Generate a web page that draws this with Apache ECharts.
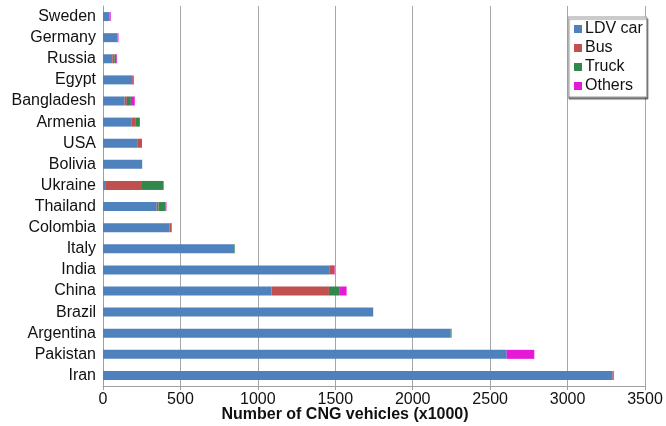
<!DOCTYPE html>
<html><head><meta charset="utf-8">
<script src="https://cdn.jsdelivr.net/npm/echarts@6/dist/echarts.min.js"></script>
<style>html,body{margin:0;padding:0;background:#fff}#c{width:666px;height:426px}</style>
</head><body><div id="c"></div>
<script>
var countries = ["Sweden","Germany","Russia","Egypt","Bangladesh","Armenia","USA","Bolivia","Ukraine","Thailand","Colombia","Italy","India","China","Brazil","Argentina","Pakistan","Iran"];
var ldvCar = [42, 93, 60, 188, 140, 186, 225, 253, 14, 347, 429, 847, 1465, 1088, 1745, 2245, 2607, 3290];
var bus    = [2, 2, 13, 5, 14, 22, 21, 0, 232, 11, 13, 0, 30, 371, 0, 0, 0, 6];
var truck  = [0, 0, 13, 0, 26, 30, 6, 0, 142, 46, 3, 4, 0, 66, 0, 6, 0, 4];
var others = [6, 5, 5, 6, 25, 0, 0, 0, 4, 6, 0, 0, 3, 48, 0, 0, 178, 0];
var xTicks = [0, 500, 1000, 1500, 2000, 2500, 3000, 3500];

var font = "'Liberation Sans', Arial, sans-serif";
var chart = echarts.init(document.getElementById('c'), null, {renderer:'canvas'});
function s(name, data, color){
  return {name:name, type:'bar', stack:'t', data:data, barWidth:9,
    itemStyle:{color:color}, emphasis:{disabled:true}};
}
chart.setOption({
  animation:false,
  textStyle:{fontFamily:font},
  grid:{left:103, right:21, top:6, bottom:40, containLabel:false, outerBoundsMode:'none'},
  legend:{
    orient:'vertical', left:568, top:17, width:80,
    data:['LDV car','Bus','Truck','Others'],
    icon:'rect', itemWidth:8, itemHeight:8, itemGap:3,
    padding:[4,4,3,6],
    borderColor:'#999', borderWidth:1, backgroundColor:'#fff',
    shadowColor:'rgba(0,0,0,0.45)', shadowBlur:1, shadowOffsetX:1, shadowOffsetY:2,
    textStyle:{fontFamily:font, fontSize:16, color:'#111', padding:[0,0,0,-2]}
  },
  xAxis:{
    type:'value', min:0, max:3500, interval:500,
    axisLine:{show:true, lineStyle:{color:'#a0a0a0'}},
    axisTick:{show:true, length:4, lineStyle:{color:'#a0a0a0'}},
    splitLine:{show:true, lineStyle:{color:'#a6a6a6', width:1}},
    axisLabel:{fontFamily:font, fontSize:16, color:'#111', margin:6,
      formatter:function(v){return xTicks.indexOf(v)>=0 ? String(v) : '';}},
    name:'Number of CNG vehicles (x1000)', nameLocation:'middle', nameGap:21,
    nameMoveOverlap:false,
    nameTextStyle:{fontFamily:font, fontSize:16, fontWeight:'bold', color:'#111', padding:[0,0,0,-58]}
  },
  yAxis:{
    type:'category', data:countries, inverse:true,
    axisLine:{show:true, lineStyle:{color:'#a0a0a0'}},
    axisTick:{show:false},
    axisLabel:{fontFamily:font, fontSize:16, color:'#111', margin:7, interval:0}
  },
  series:[
    s('LDV car', ldvCar, '#4f81bd'),
    s('Bus', bus, '#c0504d'),
    s('Truck', truck, '#31884a'),
    s('Others', others, '#e619d8')
  ]
});
</script></body></html>
